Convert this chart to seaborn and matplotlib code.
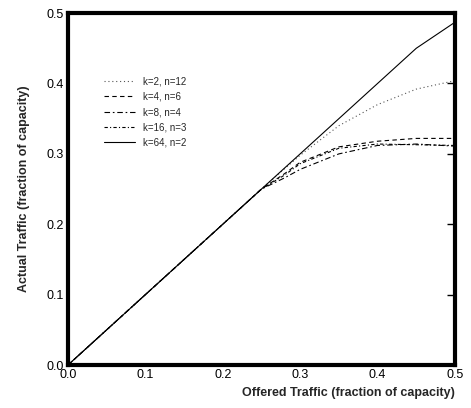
import matplotlib
matplotlib.use("Agg")
import matplotlib.pyplot as plt
import seaborn as sns
import pandas as pd

sns.set_style("white")
plt.rcParams['font.family'] = ['Liberation Sans', 'DejaVu Sans']

# offered traffic (x) and actual traffic (y)
offered = [0.0, 0.25, 0.28, 0.30, 0.35, 0.40, 0.45, 0.50]
k2_n12 = [0.0, 0.25, 0.279, 0.298, 0.340, 0.370, 0.392, 0.404]
k4_n6 = [0.0, 0.25, 0.272, 0.288, 0.310, 0.318, 0.322, 0.322]
k8_n4 = [0.0, 0.25, 0.266, 0.278, 0.300, 0.312, 0.314, 0.311]
k16_n3 = [0.0, 0.25, 0.270, 0.286, 0.308, 0.314, 0.313, 0.312]
k64_n2 = [0.0, 0.25, 0.28, 0.30, 0.35, 0.40, 0.45, 0.487]

labels = ["k=2, n=12", "k=4, n=6", "k=8, n=4", "k=16, n=3", "k=64, n=2"]
series = [k2_n12, k4_n6, k8_n4, k16_n3, k64_n2]

rows = []
for lab, ys in zip(labels, series):
    for x, y in zip(offered, ys):
        rows.append({"offered": x, "actual": y, "config": lab})
df = pd.DataFrame(rows)

dashes = {
    "k=2, n=12": (1, 2.5),
    "k=4, n=6": (4, 3),
    "k=8, n=4": (5, 2.5, 1.5, 2.5),
    "k=16, n=3": (3, 2, 1, 2),
    "k=64, n=2": "",
}
colors = ["#555555", "black", "black", "black", "black"]

fig, ax = plt.subplots(figsize=(4.71, 4.08), dpi=100)
fig.subplots_adjust(left=0.144, right=0.966, top=0.968, bottom=0.105)

sns.lineplot(data=df, x="offered", y="actual", hue="config", style="config",
             dashes=dashes, palette=colors, linewidth=0.8, ax=ax,
             hue_order=labels, style_order=labels)

ax.set_xlim(0, 0.5)
ax.set_ylim(0, 0.5)
ax.set_xticks([0.0, 0.1, 0.2, 0.3, 0.4, 0.5])
ax.set_yticks([0.0, 0.1, 0.2, 0.3, 0.4, 0.5])
ax.set_xticklabels(["0.0", "0.1", "0.2", "0.3", "0.4", "0.5"])
ax.set_yticklabels(["0.0", "0.1", "0.2", "0.3", "0.4", "0.5"])
ax.tick_params(direction="in", length=6, width=1, labelsize=9, right=True,
               colors="black", pad=3)
for s in ax.spines.values():
    s.set_linewidth(3)
    s.set_color("black")

ax.set_xlabel("Offered Traffic (fraction of capacity)", fontsize=9,
              fontweight="bold", loc="right")
ax.set_ylabel("Actual Traffic (fraction of capacity)", fontsize=9,
              fontweight="bold", labelpad=12)

leg = ax.legend(loc="upper left", bbox_to_anchor=(0.07, 0.845), frameon=False,
                fontsize=7, handlelength=3.2, labelspacing=0.55,
                handletextpad=0.8)

plt.savefig("out.png", dpi=100)
